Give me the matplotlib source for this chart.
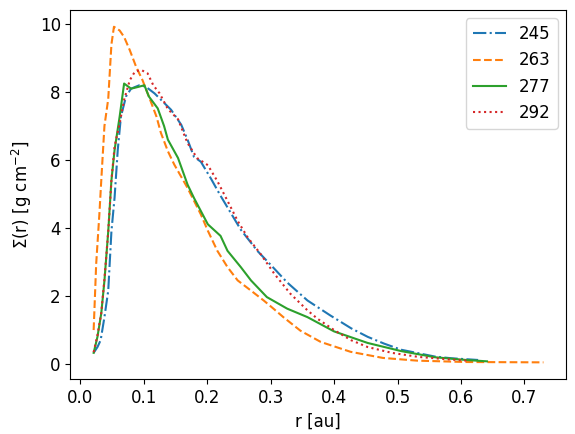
import matplotlib
matplotlib.use("Agg")
import matplotlib.pyplot as plt

plt.rcParams["font.size"] = 12

# surface density profiles
r_245 = [0.021, 0.027, 0.032, 0.038, 0.044, 0.049, 0.054, 0.059, 0.064, 0.072,
         0.080, 0.093, 0.103, 0.117, 0.130, 0.143, 0.159, 0.169, 0.179, 0.190,
         0.206, 0.221, 0.237, 0.253, 0.279, 0.306, 0.326, 0.358, 0.394, 0.427,
         0.453, 0.479, 0.506, 0.559, 0.585, 0.627]
sig_245 = [0.33, 0.5, 0.7, 1.38, 2.16, 3.9, 4.9, 6.3, 7.28, 7.87,
           8.1, 8.2, 8.16, 7.96, 7.72, 7.48, 7.04, 6.6, 6.1, 5.95,
           5.45, 4.95, 4.45, 3.95, 3.33, 2.8, 2.4, 1.87, 1.43, 1.05,
           0.8, 0.6, 0.42, 0.22, 0.17, 0.12]

r_263 = [0.021, 0.025, 0.030, 0.033, 0.038, 0.044, 0.049, 0.053, 0.062, 0.069,
         0.078, 0.088, 0.098, 0.108, 0.120, 0.127, 0.138, 0.148, 0.169, 0.190,
         0.201, 0.216, 0.232, 0.248, 0.269, 0.289, 0.305, 0.320, 0.347, 0.379,
         0.426, 0.477, 0.531, 0.608, 0.730]
sig_263 = [1.0, 2.95, 4.4, 5.4, 7.0, 7.8, 9.4, 9.92, 9.81, 9.62,
           9.23, 8.74, 8.35, 7.87, 7.28, 6.8, 6.26, 5.87, 5.18, 4.4,
           3.92, 3.33, 2.85, 2.46, 2.16, 1.87, 1.62, 1.38, 0.98, 0.65,
           0.36, 0.18, 0.1, 0.06, 0.05]

r_277 = [0.021, 0.027, 0.033, 0.038, 0.044, 0.049, 0.054, 0.062, 0.069, 0.080,
         0.091, 0.101, 0.108, 0.122, 0.132, 0.138, 0.154, 0.169, 0.179, 0.190,
         0.201, 0.221, 0.232, 0.253, 0.269, 0.294, 0.326, 0.358, 0.400, 0.453,
         0.506, 0.559, 0.608, 0.641]
sig_277 = [0.33, 0.8, 1.49, 2.45, 3.9, 5.4, 6.3, 7.28, 8.25, 8.1,
           8.15, 8.2, 7.87, 7.52, 7.0, 6.6, 6.06, 5.28, 4.89, 4.5,
           4.11, 3.77, 3.33, 2.85, 2.46, 1.97, 1.63, 1.38, 0.96, 0.62,
           0.38, 0.2, 0.12, 0.08]

r_292 = [0.021, 0.027, 0.033, 0.038, 0.044, 0.049, 0.054, 0.062, 0.069, 0.078,
         0.086, 0.096, 0.106, 0.115, 0.125, 0.138, 0.154, 0.169, 0.184, 0.201,
         0.216, 0.232, 0.248, 0.264, 0.284, 0.306, 0.331, 0.358, 0.374, 0.400,
         0.427, 0.453, 0.491, 0.533, 0.585, 0.610]
sig_292 = [0.35, 0.85, 1.5, 2.5, 3.9, 5.4, 6.4, 7.08, 7.77, 8.35,
           8.6, 8.65, 8.55, 8.2, 7.96, 7.5, 7.2, 6.5, 6.06, 5.85,
           5.38, 4.8, 4.21, 3.72, 3.24, 2.65, 2.07, 1.58, 1.33, 1.0,
           0.7, 0.5, 0.33, 0.21, 0.13, 0.1]

fig = plt.figure(figsize=(5.75, 4.34), dpi=100)
ax = fig.add_axes([0.1226, 0.1267, 0.8617, 0.850])

ax.plot(r_245, sig_245, "-.", label="245")
ax.plot(r_263, sig_263, "--", label="263")
ax.plot(r_277, sig_277, "-", label="277")
ax.plot(r_292, sig_292, ":", label="292")

ax.set_xlim(-0.0155, 0.7655)
ax.set_ylim(-0.44, 10.41)
ax.set_xlabel("r [au]")
ax.set_ylabel(r"$\Sigma$(r) [g cm$^{-2}$]")
ax.legend(loc="upper right")

fig.savefig("out.png", dpi=100)
